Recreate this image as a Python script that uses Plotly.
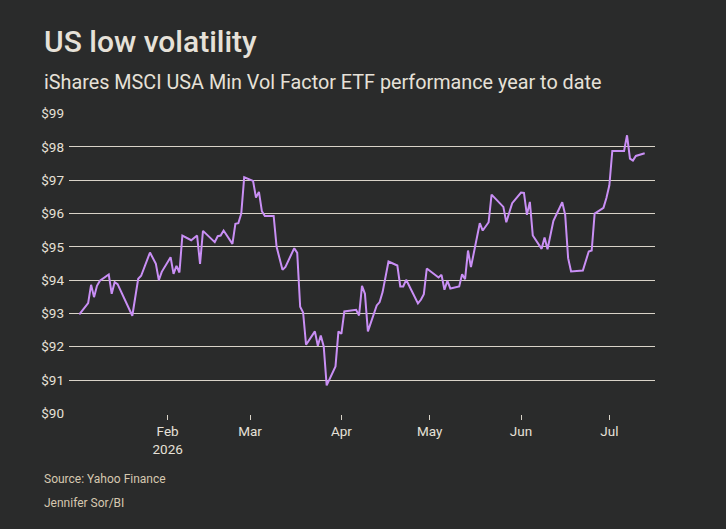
import plotly.graph_objects as go

dates = [
    "2026-01-02", "2026-01-05", "2026-01-06", "2026-01-07", "2026-01-08", "2026-01-09",
    "2026-01-12", "2026-01-13", "2026-01-14", "2026-01-15", "2026-01-20", "2026-01-22",
    "2026-01-23", "2026-01-26", "2026-01-28", "2026-01-29", "2026-01-30",
    "2026-02-02", "2026-02-03", "2026-02-04", "2026-02-05", "2026-02-06", "2026-02-09",
    "2026-02-11", "2026-02-12", "2026-02-13", "2026-02-17", "2026-02-18", "2026-02-19",
    "2026-02-20", "2026-02-23", "2026-02-24", "2026-02-25", "2026-02-26", "2026-02-27",
    "2026-03-02", "2026-03-03", "2026-03-04", "2026-03-05", "2026-03-06", "2026-03-09",
    "2026-03-10", "2026-03-12", "2026-03-13", "2026-03-16", "2026-03-17", "2026-03-18",
    "2026-03-19", "2026-03-20", "2026-03-23", "2026-03-24", "2026-03-25", "2026-03-26",
    "2026-03-27", "2026-03-30", "2026-03-31",
    "2026-04-01", "2026-04-02", "2026-04-06", "2026-04-07", "2026-04-08", "2026-04-09",
    "2026-04-10", "2026-04-13", "2026-04-14", "2026-04-15", "2026-04-17", "2026-04-20",
    "2026-04-21", "2026-04-22", "2026-04-23", "2026-04-27", "2026-04-28", "2026-04-29",
    "2026-04-30",
    "2026-05-04", "2026-05-05", "2026-05-06", "2026-05-07", "2026-05-08", "2026-05-11",
    "2026-05-12", "2026-05-13", "2026-05-14", "2026-05-15", "2026-05-18", "2026-05-19",
    "2026-05-21", "2026-05-22", "2026-05-26", "2026-05-27", "2026-05-29",
    "2026-06-01", "2026-06-02", "2026-06-03", "2026-06-04", "2026-06-05", "2026-06-08",
    "2026-06-09", "2026-06-10", "2026-06-12", "2026-06-15", "2026-06-16", "2026-06-17",
    "2026-06-18", "2026-06-22", "2026-06-24", "2026-06-25", "2026-06-26", "2026-06-29",
    "2026-06-30",
    "2026-07-01", "2026-07-02", "2026-07-06", "2026-07-07", "2026-07-08", "2026-07-09",
    "2026-07-10", "2026-07-13",
]

prices = [
    92.97, 93.31, 93.86, 93.49, 93.83, 93.98,
    94.17, 93.59, 93.94, 93.88, 92.93, 94.04,
    94.13, 94.83, 94.49, 94.00, 94.25,
    94.69, 94.19, 94.43, 94.23, 95.34, 95.20,
    95.34, 94.49, 95.48, 95.14, 95.32, 95.34,
    95.49, 95.09, 95.69, 95.71, 96.00, 97.09,
    96.98, 96.48, 96.65, 96.07, 95.93, 95.93,
    95.00, 94.31, 94.40, 94.96, 94.82, 93.20,
    93.03, 92.06, 92.46, 92.03, 92.34, 92.01,
    90.84, 91.41, 92.46,
    92.39, 93.06, 93.11, 92.94, 93.83, 93.59,
    92.46, 93.24, 93.34, 93.64, 94.56, 94.44,
    93.81, 93.81, 94.01, 93.30, 93.41, 93.58,
    94.35,
    94.08, 94.16, 93.71, 93.98, 93.75, 93.81,
    94.18, 94.03, 94.89, 94.39, 95.71, 95.49,
    95.74, 96.57, 96.20, 95.74, 96.31,
    96.63, 96.62, 95.96, 96.35, 95.34, 94.94,
    95.28, 94.93, 95.78, 96.34, 95.96, 94.66,
    94.26, 94.29, 94.86, 94.89, 96.00, 96.17,
    96.47,
    96.85, 97.88, 97.88, 98.35, 97.65, 97.59,
    97.73, 97.81,
]

y_ticks = [90, 91, 92, 93, 94, 95, 96, 97, 98, 99]
y_tick_labels = ["$" + str(v) for v in y_ticks]
x_ticks = ["2026-02-01", "2026-03-01", "2026-04-01", "2026-05-01", "2026-06-01", "2026-07-01"]
x_tick_labels = ["Feb<br>2026", "Mar", "Apr", "May", "Jun", "Jul"]

title = "US low volatility"
subtitle = "iShares MSCI USA Min Vol Factor ETF performance year to date"
source = "Source: Yahoo Finance"
credit = "Jennifer Sor/BI"

BG = "#2a2b2b"
TEXT = "#e6e1d8"
GRID = "#d9d3c8"
LINE = "#c98ff5"
FOOT = "#d6c8b0"
FONT = "Roboto"

fig = go.Figure()
fig.add_trace(go.Scatter(
    x=dates, y=prices, mode="lines",
    line=dict(color=LINE, width=2),
    hoverinfo="x+y", showlegend=False,
))

fig.update_layout(
    width=726, height=529,
    paper_bgcolor=BG, plot_bgcolor=BG,
    margin=dict(l=69, r=71, t=113, b=115),
    font=dict(family=FONT, color=TEXT, size=13),
    xaxis=dict(
        range=["2025-12-29 12:00", "2026-07-16 12:00"],
        tickvals=x_ticks, ticktext=x_tick_labels,
        showgrid=False, zeroline=False, showline=False,
        ticks="outside", ticklen=5, tickwidth=1, tickcolor=GRID,
        tickfont=dict(family=FONT, size=13.5, color=TEXT),
    ),
    yaxis=dict(
        range=[89.98, 99.02],
        tickvals=y_ticks, ticktext=y_tick_labels,
        showgrid=True, gridcolor=GRID, gridwidth=1.3,
        zeroline=False, showline=False, ticks="",
        ticklabelstandoff=4,
        tickfont=dict(family=FONT, size=13.5, color=TEXT),
    ),
    annotations=[
        dict(text=title, xref="paper", yref="paper", x=-0.0461, y=1.239,
             xanchor="left", yanchor="middle", showarrow=False,
             font=dict(family=FONT, size=30, color=TEXT, weight=500)),
        dict(text=subtitle, xref="paper", yref="paper", x=-0.0461, y=1.0997,
             xanchor="left", yanchor="middle", showarrow=False,
             font=dict(family=FONT, size=19.8, color=TEXT)),
        dict(text=source, xref="paper", yref="paper", x=-0.0461, y=-0.216,
             xanchor="left", yanchor="middle", showarrow=False,
             font=dict(family=FONT, size=12, color=FOOT)),
        dict(text=credit, xref="paper", yref="paper", x=-0.0461, y=-0.296,
             xanchor="left", yanchor="middle", showarrow=False,
             font=dict(family=FONT, size=12, color=FOOT)),
    ],
)

fig.write_html("out.html")
